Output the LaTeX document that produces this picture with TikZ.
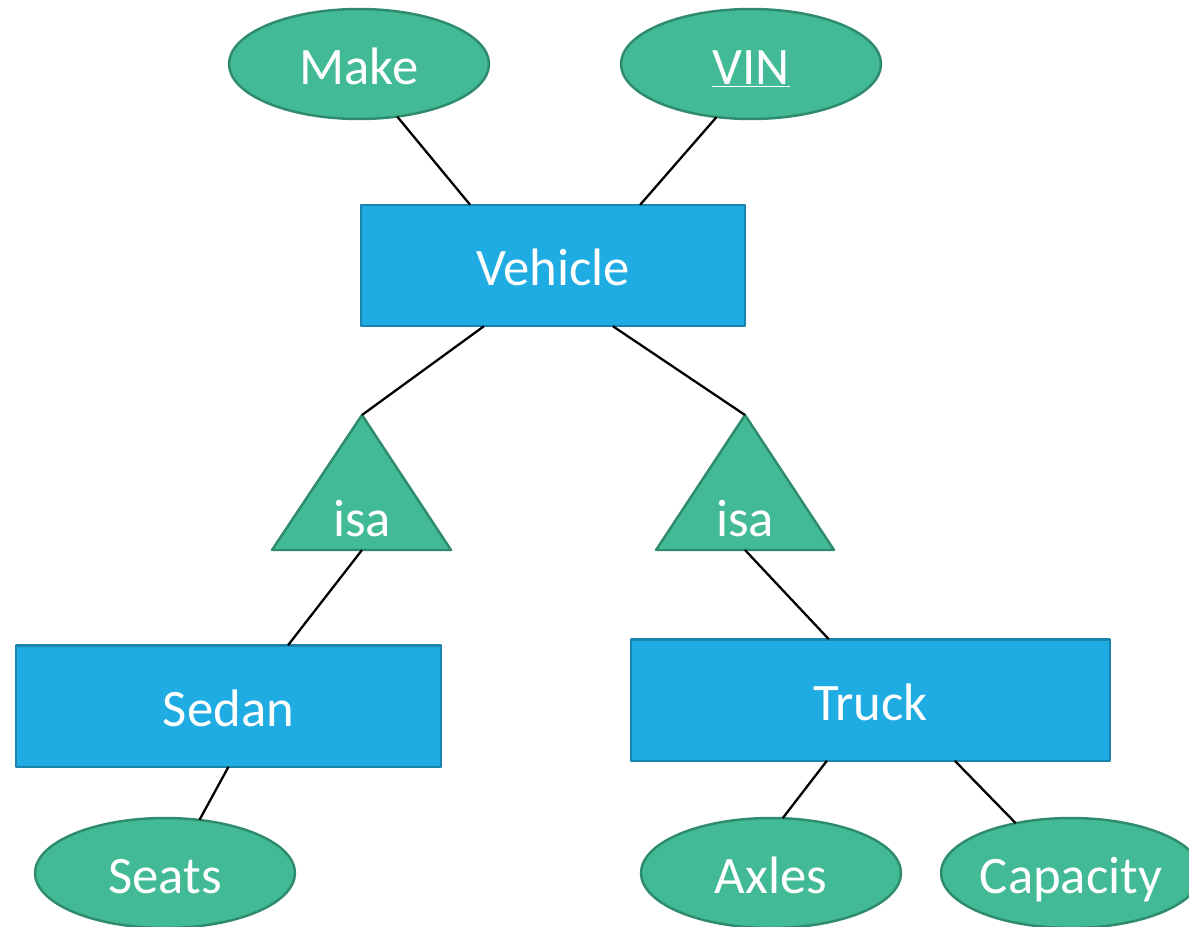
\documentclass[tikz,border=0pt]{standalone}
\usepackage{fontspec}
\setmainfont{Carlito}
\usetikzlibrary{shapes,calc}
\definecolor{attrgreen}{RGB}{67,186,150}
\definecolor{attrline}{RGB}{46,139,110}
\definecolor{entblue}{RGB}{30,172,227}
\definecolor{entline}{RGB}{26,132,173}

\begin{document}
\begin{tikzpicture}[x=0.02cm,y=-0.02cm,line join=round,
  every node/.style={text=white,font=\fontsize{30}{36}\selectfont,text height=29pt,text depth=6pt},
  myentity/.style={draw=entline,fill=entblue,line width=1.4pt,minimum height=2.43cm,inner sep=0pt,outer sep=0pt},
  myattr/.style={ellipse,draw=attrline,fill=attrgreen,line width=1.4pt,minimum width=5.2cm,minimum height=2.2cm,inner sep=0pt,outer sep=0pt},
  myisa/.style={draw=attrline,fill=attrgreen,line width=1.4pt},
  mylink/.style={line width=1.3pt}]
\useasboundingbox (0,0) rectangle (1189,926);
% attributes
\node[myattr] (make) at (359,64) {Make};
\node[myattr] (vin) at (751,64) {\underline{VIN}};
\node[myattr] (seats) at (165,873) {Seats};
\node[myattr] (axles) at (771,873) {Axles};
\node[myattr] (capacity) at (1071,873) {Capacity};
% entities
\node[myentity,minimum width=7.68cm] (vehicle) at (553,265.5) {Vehicle};
\node[myentity,minimum width=8.5cm] (sedan) at (228.5,706) {Sedan};
\node[myentity,minimum width=9.58cm] (truck) at (870.5,700) {Truck};
% isa triangles
\coordinate (isaLtop) at (362,415);
\coordinate (isaLbot) at (362,550);
\coordinate (isaRtop) at (745,415);
\coordinate (isaRbot) at (745,550);
\draw[myisa] (isaLtop) -- (272,550) -- (451,550) -- cycle;
\draw[myisa] (isaRtop) -- (656,550) -- (834,550) -- cycle;
\node (isaL) at (362,516) {isa};
\node (isaR) at (745,516) {isa};
% links
\draw[mylink] (make.-54) -- ($(vehicle.north west)!0.284!(vehicle.north east)$);
\draw[mylink] (vin.-123) -- ($(vehicle.north west)!0.727!(vehicle.north east)$);
\draw[mylink] ($(vehicle.south west)!0.32!(vehicle.south east)$) -- (isaLtop);
\draw[mylink] ($(vehicle.south west)!0.656!(vehicle.south east)$) -- (isaRtop);
\draw[mylink] (isaLbot) -- ($(sedan.north west)!0.64!(sedan.north east)$);
\draw[mylink] (isaRbot) -- ($(truck.north west)!0.413!(truck.north east)$);
\draw[mylink] (sedan.south) -- (seats.57);
\draw[mylink] ($(truck.south west)!0.409!(truck.south east)$) -- (axles.78);
\draw[mylink] ($(truck.south west)!0.676!(truck.south east)$) -- (capacity.138);
\end{tikzpicture}
\end{document}
